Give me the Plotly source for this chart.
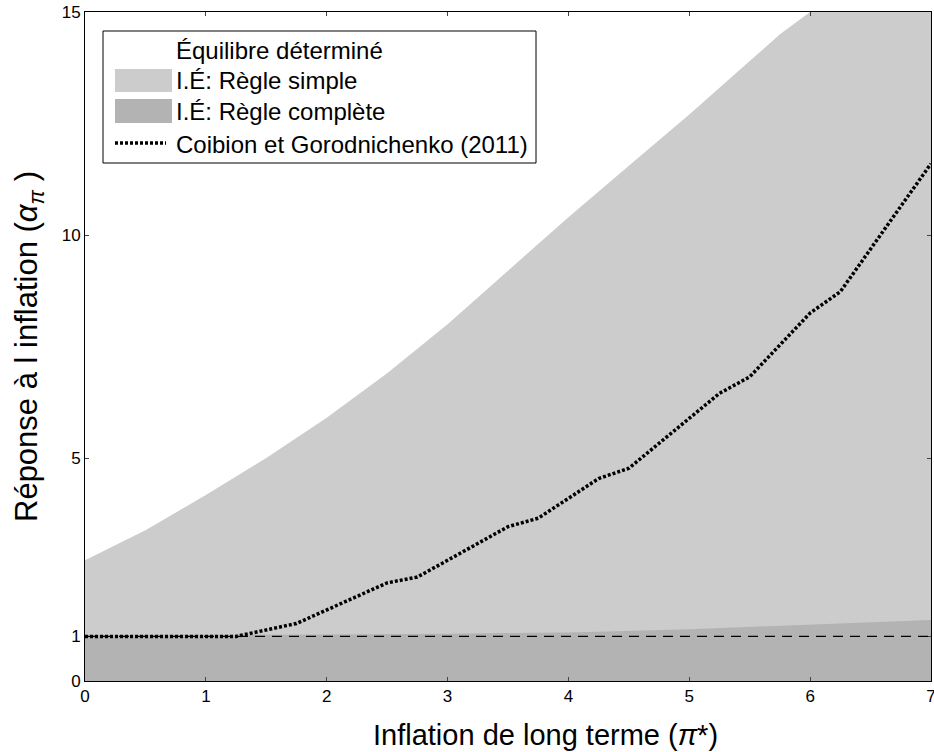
import plotly.graph_objects as go

# ── Data ──────────────────────────────────────────────────────────────────────
# long-run inflation grid for the determinacy frontiers
pi_grid = [0, 0.5, 1.0, 1.5, 2.0, 2.5, 3.0, 3.5, 4.0, 4.5, 5.0, 5.5, 5.75, 6.0, 6.5, 7.0]
# upper bound of alpha_pi for determinacy, simple rule
simple_upper = [2.71, 3.38, 4.17, 5.0, 5.9, 6.9, 8.0, 9.2, 10.4, 11.55, 12.7, 13.9, 14.5, 15.0, 16.0, 17.0]

pi_full = [0, 1, 2, 3, 4, 5, 6, 7]
# lower bound of alpha_pi, complete rule
full_lower = [1.03, 1.03, 1.04, 1.06, 1.09, 1.16, 1.26, 1.37]

# Coibion & Gorodnichenko (2011) threshold
cg_pi = [0, 1.25, 1.75, 2.5, 2.75, 3.5, 3.75, 4.25, 4.5, 5.25, 5.5, 6.0, 6.25, 7.0]
cg_alpha = [1.0, 1.0, 1.29, 2.2, 2.33, 3.46, 3.65, 4.54, 4.77, 6.45, 6.82, 8.25, 8.73, 11.6]

taylor_line = 1.0

x_ticks = [0, 1, 2, 3, 4, 5, 6, 7]
y_ticks = [0, 1, 5, 10, 15]

legend_labels = [
    "Équilibre déterminé",
    "I.É: Règle simple",
    "I.É: Règle complète",
    "Coibion et Gorodnichenko (2011)",
]

LIGHT = "#cccccc"
DARK = "#b3b3b3"
FONT = "Liberation Sans, Arial, sans-serif"

# ── Figure ────────────────────────────────────────────────────────────────────
W, H = 934, 752
M = dict(l=85, r=3, t=12, b=71)

fig = go.Figure()
fig.add_trace(go.Scatter(
    x=pi_grid, y=simple_upper, mode="lines", line=dict(width=0),
    fill="tozeroy", fillcolor=LIGHT, showlegend=False, hoverinfo="skip",
))
fig.add_trace(go.Scatter(
    x=pi_full, y=full_lower, mode="lines", line=dict(width=0),
    fill="tozeroy", fillcolor=DARK, showlegend=False, hoverinfo="skip",
))
fig.add_hline(y=taylor_line, line=dict(color="black", width=1.3, dash="10px,7px"))
fig.add_trace(go.Scatter(
    x=cg_pi, y=cg_alpha, mode="lines",
    line=dict(color="black", width=3.5, dash="3px,2px"),
    showlegend=False,
))


# ── Hand-drawn legend (MATLAB style, big swatches) ───────────────────────────
# px/py take screen pixels and return paper coordinates
def px(x):
    return (x - M["l"]) / (W - M["l"] - M["r"])


def py(y):
    return (H - M["b"] - y) / (H - M["t"] - M["b"])


shapes = [
    dict(type="rect", xref="paper", yref="paper",
         x0=px(103), x1=px(536), y0=py(163), y1=py(31),
         line=dict(color="black", width=1), fillcolor="white", layer="above"),
    dict(type="rect", xref="paper", yref="paper",
         x0=px(115), x1=px(172), y0=py(92), y1=py(69),
         line=dict(width=0), fillcolor=LIGHT, layer="above"),
    dict(type="rect", xref="paper", yref="paper",
         x0=px(115), x1=px(172), y0=py(123), y1=py(99),
         line=dict(width=0), fillcolor=DARK, layer="above"),
    dict(type="line", xref="paper", yref="paper",
         x0=px(115), x1=px(166), y0=py(143), y1=py(143),
         line=dict(color="black", width=3.5, dash="3px,2px"), layer="above"),
]
for s in shapes:
    fig.add_shape(**s)

for label, yc in zip(legend_labels, [51, 81, 112, 144]):
    fig.add_annotation(
        x=px(174), y=py(yc), xref="paper", yref="paper",
        text=label, showarrow=False, xanchor="left", yanchor="middle",
        font=dict(size=24, color="black", family=FONT),
    )

# x label sits a bit right of the axis centre in the original
fig.add_annotation(
    x=px(545), y=py(735), xref="paper", yref="paper",
    text="Inflation de long terme (<i>π</i>*)", showarrow=False,
    xanchor="center", yanchor="middle",
    font=dict(size=29, color="black", family=FONT),
)

fig.update_xaxes(
    range=[0, 7], tickvals=x_ticks, ticks="inside", ticklen=4,
    showline=True, linecolor="black", linewidth=1, mirror="ticks",
    showgrid=False, zeroline=False, automargin=False, ticklabeloverflow="allow",
    tickfont=dict(size=17, color="black", family=FONT),
)
fig.update_yaxes(
    range=[0, 15], tickvals=y_ticks, ticks="inside", ticklen=4,
    showline=True, linecolor="black", linewidth=1, mirror="ticks",
    showgrid=False, zeroline=False, automargin=False, ticklabeloverflow="allow",
    tickfont=dict(size=17, color="black", family=FONT),
    title=dict(text="Réponse à l inflation (<i>α</i><sub><i>π</i></sub> )", standoff=14,
               font=dict(size=31, color="black", family=FONT)),
)
fig.update_layout(
    width=W, height=H, margin=M,
    plot_bgcolor="white", paper_bgcolor="white",
    showlegend=False,
    font=dict(family=FONT, color="black"),
)

# drop the default body margin so the figure fills the window exactly
fig.write_html(
    "out.html",
    config={"displayModeBar": False},
    post_script="document.body.style.margin='0';document.body.style.overflow='hidden';",
)
